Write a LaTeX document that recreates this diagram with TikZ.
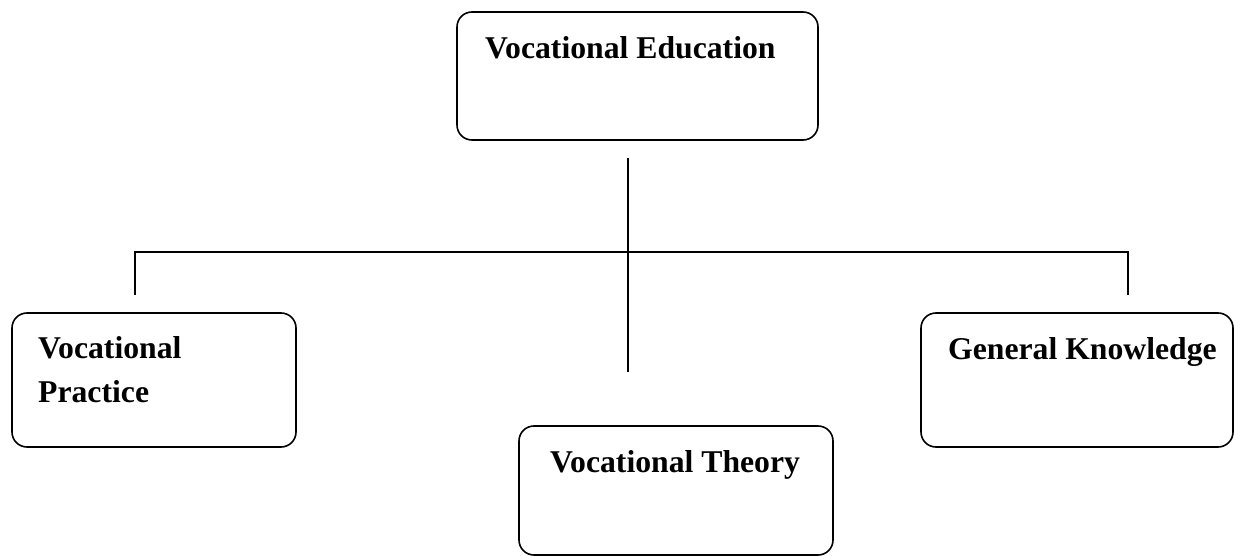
\documentclass[tikz,border=0pt]{standalone}
\usepackage{fontspec}
\setmainfont{Liberation Serif}
\begin{document}
\begin{tikzpicture}[x=1pt,y=-1pt,
  box/.style={draw, rounded corners=15pt, line width=1.6pt, inner sep=0pt, outer sep=0pt},
  lbl/.style={anchor=base west, inner sep=0pt, font=\fontsize{31.7}{43}\selectfont\bfseries},
  conn/.style={line width=1.6pt}]
\useasboundingbox (0,0) rectangle (1234,556);
% boxes
\node[box, minimum width=361pt, minimum height=128pt] (edu) at (637.5,76) {};
\node[box, minimum width=284pt, minimum height=134pt] (prac) at (154,380) {};
\node[box, minimum width=312pt, minimum height=134pt] (gen) at (1077,380) {};
\node[box, minimum width=314pt, minimum height=129pt] (theo) at (676,490.5) {};
% labels
\node[lbl] (eduT) at (485,59) {Vocational Education};
\node[lbl] (pracT1) at (38,358) {Vocational};
\node[lbl] (pracT2) at (38,402) {Practice};
\node[lbl] (genT) at (948,359) {General Knowledge};
\node[lbl] (theoT) at (550,472) {Vocational Theory};
% connectors
\coordinate (trunkTop) at (628,158);
\coordinate (trunkBot) at (628,372);
\coordinate (hl) at (135,252);
\coordinate (hr) at (1128,252);
\coordinate (dl) at (135,295);
\coordinate (dr) at (1128,295);
\draw[conn] (trunkTop) -- (trunkBot);
\draw[conn] (dl) -- (hl) -- (hr) -- (dr);
\end{tikzpicture}
\end{document}
